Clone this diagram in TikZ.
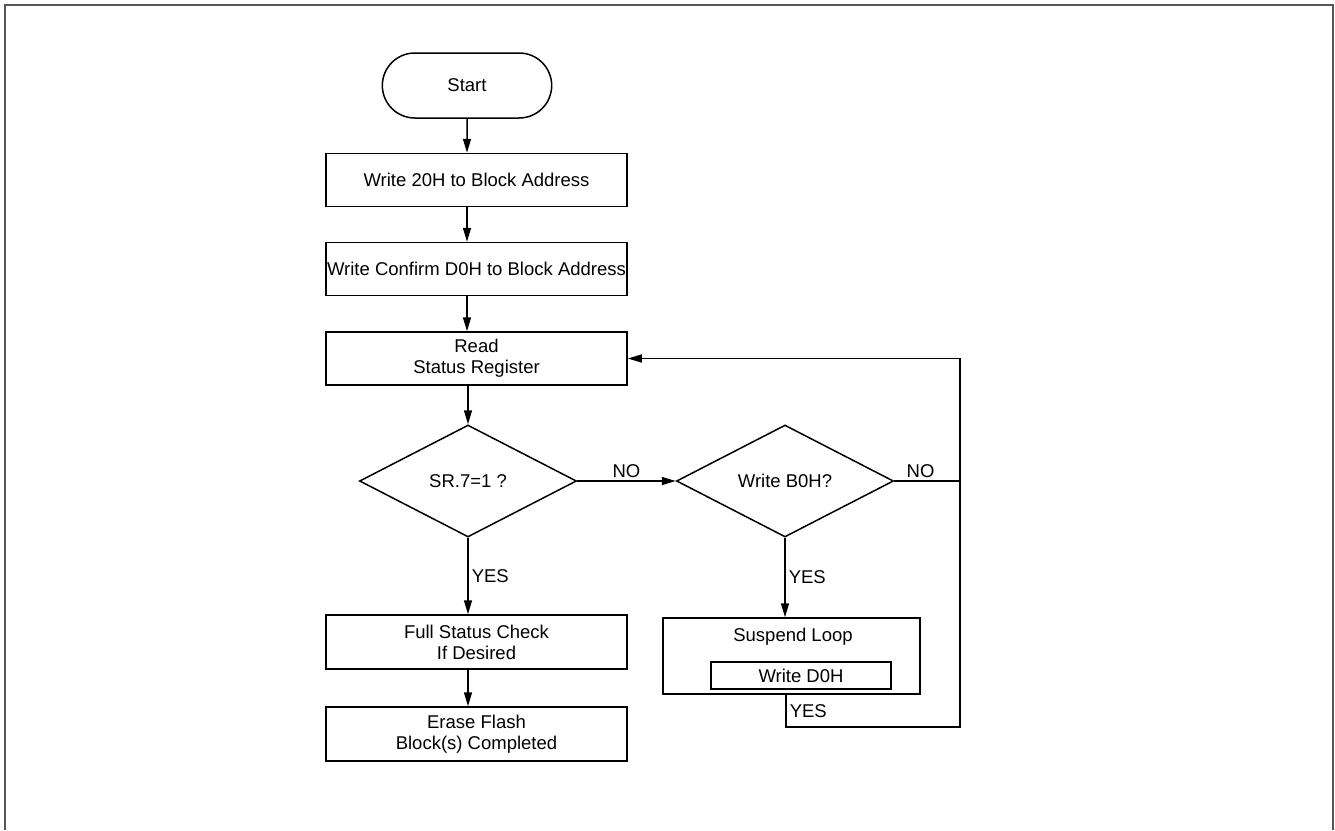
\documentclass[tikz,border=0pt]{standalone}
\usepackage{fontspec}
\setmainfont{Liberation Sans}
\usetikzlibrary{shapes.geometric,shapes.misc,arrows.meta}
\definecolor{framegray}{HTML}{555555}

\begin{document}
\begin{tikzpicture}[x=1pt,y=-1pt,line width=1.5pt,
  font=\fontsize{18.5}{21}\selectfont,
  box/.style={draw,rectangle,inner sep=0pt,minimum width=301pt,minimum height=53pt,align=center},
  term/.style={draw,rounded rectangle,minimum width=176pt,minimum height=65pt},
  dia/.style={draw,diamond,inner sep=0pt,minimum width=217pt,minimum height=112pt},
  arr/.style={-{Triangle[length=14pt,width=8pt]}},
  lbl/.style={inner sep=3pt}]
  \useasboundingbox (0,0) rectangle (1335,830);
  \draw[framegray,line width=2pt] (5,830) -- (5,5) -- (1333,5) -- (1333,830);

  \node[term] (start) at (467,85.5) {Start};
  \node[box] (w20) at (476.5,180) {Write 20H to Block Address};
  \node[box] (wd0h) at (476.5,269) {Write Confirm D0H to Block Address};
  \node[box] (rsr) at (476.5,358.5) {Read\\Status Register};
  \node[dia] (sr7) at (468,481) {SR.7=1 ?};
  \node[dia] (b0h) at (785,481) {Write B0H?};
  \node[box,minimum height=54pt] (full) at (476.5,642) {Full Status Check\\If Desired};
  \node[box,minimum height=54pt] (done) at (476.5,734) {Erase Flash\\Block(s) Completed};
  \node[draw,minimum width=257pt,minimum height=76pt] (susp) at (791.5,656) {};
  \node (susptxt) at (793,637) {Suspend Loop};
  \node[draw,inner sep=0pt,minimum width=180pt,minimum height=27pt] (wd0) at (801,675.5) {Write D0H};
  \coordinate (rt) at (960,481);
  \coordinate (lp) at (786,727);

  \draw[arr] (start) -- (start |- w20.north);
  \draw[arr] (w20.south -| start) -- (wd0h.north -| start);
  \draw[arr] (wd0h.south -| start) -- (rsr.north -| start);
  \draw[arr] (rsr.south -| sr7.north) -- (sr7.north);
  \draw[arr] (sr7.south) -- node[right,lbl]{YES} (sr7.south |- full.north);
  \draw[arr] (full.south -| sr7.south) -- (done.north -| sr7.south);
  \draw[arr] (sr7.east) -- node[above,lbl]{NO} (b0h.west);
  \draw[arr] (b0h.south) -- node[right,lbl]{YES} (b0h.south |- susp.north);
  \draw (b0h.east) -- node[above,lbl,pos=.4]{NO} (rt);
  \draw[arr] (susp.south -| lp) -- node[right,lbl]{YES} (lp) -- (lp -| rt) -- (rt |- rsr.east) -- (rsr.east);
\end{tikzpicture}
\end{document}
